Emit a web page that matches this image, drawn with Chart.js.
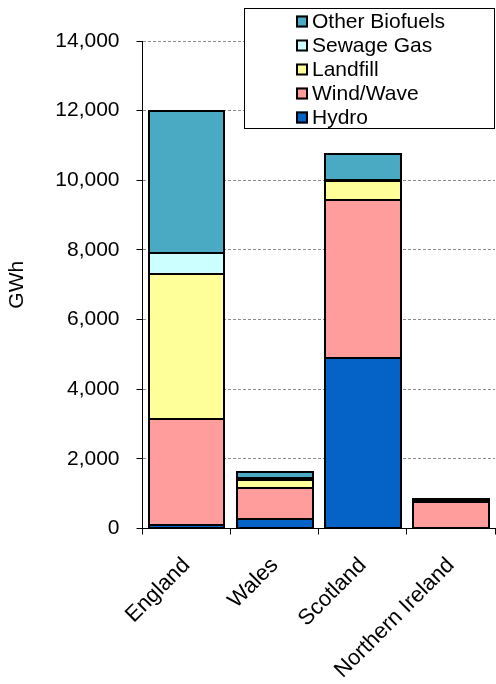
<!DOCTYPE html>
<html>
<head>
<meta charset="utf-8">
<script src="https://cdn.jsdelivr.net/npm/chart.js@4/dist/chart.umd.min.js"></script>
<style>
  html, body { margin: 0; padding: 0; background: #fff; }
  #wrap { position: relative; width: 496px; height: 684px; }
</style>
</head>
<body>
<div id="wrap"><canvas id="c" width="496" height="684"></canvas></div>
<script>
// Renewable electricity generation by country (GWh)
const regions = ['England', 'Wales', 'Scotland', 'Northern Ireland'];
const hydro = [100, 280, 4890, 10];
const windWave = [3050, 890, 4550, 740];
const landfill = [4160, 210, 530, 60];
const sewageGas = [590, 60, 50, 10];
const otherBiofuels = [4100, 170, 740, 30];
const yTicks = [0, 2000, 4000, 6000, 8000, 10000, 12000, 14000];

const FONT = 'Liberation Sans, Arial, sans-serif';
const TEXT_SIZE = 21;

function series(label, data, color) {
  return {
    label, data,
    backgroundColor: color,
    borderWidth: 0,
    barPercentage: 0.86,
    categoryPercentage: 1.0
  };
}

// Solid black outline around every stacked segment, taken from the bar elements
const segmentOutline = {
  id: 'segmentOutline',
  afterDatasetsDraw(chart) {
    const ctx = chart.ctx;
    ctx.save();
    ctx.strokeStyle = '#000';
    ctx.lineWidth = 2;
    chart.data.datasets.forEach((ds, di) => {
      const meta = chart.getDatasetMeta(di);
      meta.data.forEach(bar => {
        const { x, y, base, width } = bar.getProps(['x', 'y', 'base', 'width'], true);
        const left = Math.round(x - width / 2), right = Math.round(x + width / 2);
        const top = Math.round(Math.min(y, base)), bottom = Math.round(Math.max(y, base));
        ctx.strokeRect(left, top, right - left, bottom - top);
      });
    });
    ctx.restore();
  }
};

// Legend drawn as a boxed key in the upper right, newest series on top
const boxLegend = {
  id: 'boxLegend',
  afterDraw(chart) {
    const ctx = chart.ctx;
    const x0 = 244.5, y0 = 8.5, w = 250, h = 120;
    ctx.save();
    ctx.fillStyle = '#fff';
    ctx.fillRect(x0, y0, w, h);
    ctx.strokeStyle = '#000';
    ctx.lineWidth = 1;
    ctx.strokeRect(x0, y0, w, h);
    ctx.font = TEXT_SIZE + 'px ' + FONT;
    ctx.textBaseline = 'middle';
    ctx.textAlign = 'left';
    const sets = chart.data.datasets.slice().reverse();
    sets.forEach((ds, i) => {
      const cy = 21.5 + i * 24;
      ctx.fillStyle = ds.backgroundColor;
      ctx.fillRect(296, cy - 6, 12, 12);
      ctx.lineWidth = 2;
      ctx.strokeStyle = '#000';
      ctx.strokeRect(297, cy - 5, 10, 10);
      ctx.fillStyle = '#000';
      ctx.fillText(ds.label, 312, cy + 1);
    });
    ctx.restore();
  }
};

new Chart(document.getElementById('c'), {
  type: 'bar',
  data: {
    labels: regions,
    datasets: [
      series('Hydro', hydro, '#0563C8'),
      series('Wind/Wave', windWave, '#FF9C9C'),
      series('Landfill', landfill, '#FFFF99'),
      series('Sewage Gas', sewageGas, '#CCFFFF'),
      series('Other Biofuels', otherBiofuels, '#4BAAC3')
    ]
  },
  options: {
    responsive: false,
    animation: false,
    layout: { padding: { top: 41, right: 1, bottom: 0, left: 0 } },
    plugins: { legend: { display: false }, tooltip: { enabled: false } },
    scales: {
      x: {
        stacked: true,
        afterFit(scale) { scale.height = 155.5; },
        border: { display: true, color: '#000', width: 1 },
        grid: { display: true, drawOnChartArea: false, drawTicks: true, tickLength: 6, tickColor: '#000', offset: true },
        ticks: {
          color: '#000', font: { family: FONT, size: 22 },
          maxRotation: 45, minRotation: 45, autoSkip: false, padding: 18
        }
      },
      y: {
        stacked: true,
        min: 0, max: 14000,
        afterFit(scale) { scale.width = 142.5; },
        afterBuildTicks(scale) { scale.ticks = yTicks.map(v => ({ value: v })); },
        border: { display: true, color: '#000', width: 1, dash: [3, 2] },
        grid: { color: '#8a8a8a', lineWidth: 1, tickLength: 6, tickColor: '#000', tickBorderDash: [] },
        ticks: {
          color: '#000', font: { family: FONT, size: TEXT_SIZE }, padding: 17,
          callback: v => v.toLocaleString('en-US')
        },
        title: {
          display: true, text: 'GWh', color: '#000',
          font: { family: FONT, size: TEXT_SIZE, weight: 'normal' },
          padding: { top: 5, bottom: 0 }
        }
      }
    }
  },
  plugins: [segmentOutline, boxLegend]
});
</script>
</body>
</html>
